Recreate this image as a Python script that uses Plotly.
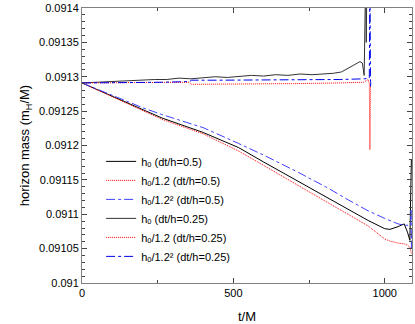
import plotly.graph_objects as go

# upper group (dt/h=0.25)
t_up_black = [0, 40, 80, 120, 160, 200, 240, 280, 320, 360, 400, 440, 480, 520, 560, 600,
              640, 680, 720, 760, 800, 830, 857, 880, 898, 910, 918, 926, 932, 937, 939, 941]
m_up_black = [0.091291, 0.091292, 0.091292, 0.091294, 0.091294, 0.091295, 0.091296, 0.091296,
              0.091298, 0.091297, 0.091299, 0.091300, 0.091299, 0.091301, 0.091302, 0.091301,
              0.091303, 0.091302, 0.091304, 0.091303, 0.091304, 0.091305, 0.091307, 0.091312,
              0.091317, 0.091320, 0.091322, 0.091320, 0.091302, 0.09145, 0.09135, 0.09145]

t_up_red = [0, 100, 200, 264, 355, 362, 450, 549, 700, 850, 930, 945, 949, 951, 953]
m_up_red = [0.091291, 0.091291, 0.091291, 0.091291, 0.091292, 0.091289, 0.091289, 0.091289,
            0.091290, 0.091291, 0.091292, 0.091296, 0.091290, 0.091194, 0.091288]

t_up_blue = [0, 100, 200, 264, 355, 362, 450, 549, 700, 850, 934, 949, 951, 952, 953, 954]
m_up_blue = [0.091291, 0.091291, 0.091292, 0.091292, 0.091293, 0.091295, 0.091295, 0.091295,
             0.091296, 0.091296, 0.091297, 0.091298, 0.09145, 0.09145, 0.091286, 0.091292]

# lower group (dt/h=0.5)
t_lo = [0, 100, 200, 264, 400, 517, 600, 714, 813, 879, 945, 1000, 1017, 1044, 1064, 1075, 1083, 1088]
m_lo_black = [0.091291, 0.091272, 0.091252, 0.091240, 0.091219, 0.091197, 0.091176, 0.091148,
              0.091123, 0.091107, 0.091091, 0.091079, 0.091078, 0.091082, 0.091086, 0.091074,
              0.091062, 0.091180]
m_lo_red = [0.091291, 0.091271, 0.091251, 0.091238, 0.091217, 0.091192, 0.091171, 0.091142,
            0.091117, 0.091101, 0.091083, 0.091064, 0.091061, 0.091058, 0.091057, 0.091055,
            0.091052, 0.091043]

t_lo_blue = [0, 100, 200, 264, 400, 517, 600, 714, 813, 879, 945, 1000, 1017, 1044, 1064, 1083,
             1086, 1087, 1088, 1089]
m_lo_blue = [0.091291, 0.091273, 0.091255, 0.091245, 0.091226, 0.091203, 0.091186, 0.091161,
             0.091138, 0.091121, 0.091105, 0.091094, 0.091091, 0.091086, 0.091084, 0.091084,
             0.091084, 0.091108, 0.091050, 0.091075]

names = ["h\u2092 (dt/h=0.5)", "h\u2092/1.2 (dt/h=0.5)",
         "h\u2092/1.2\u00b2 (dt/h=0.5)", "h\u2092 (dt/h=0.25)",
         "h\u2092/1.2 (dt/h=0.25)", "h\u2092/1.2\u00b2 (dt/h=0.25)"]

y_ticks = [0.091, 0.09105, 0.0911, 0.09115, 0.0912, 0.09125, 0.0913, 0.09135, 0.0914]
y_labels = ["0.091", "0.09105", "0.0911", "0.09115", "0.0912", "0.09125", "0.0913", "0.09135", "0.0914"]
x_ticks = [0, 500, 1000]

font = "Liberation Sans, Arial, DejaVu Sans, sans-serif"
dotted = "1px,1px"

fig = go.Figure()
fig.add_trace(go.Scatter(x=t_lo, y=m_lo_black, mode="lines", name=names[0],
                         line=dict(color="black", width=1)))
fig.add_trace(go.Scatter(x=t_lo, y=m_lo_red, mode="lines", name=names[1],
                         line=dict(color="red", width=1, dash=dotted)))
fig.add_trace(go.Scatter(x=t_lo_blue, y=m_lo_blue, mode="lines", name=names[2],
                         line=dict(color="#4040ff", width=1, dash="dashdot")))
fig.add_trace(go.Scatter(x=t_up_black, y=m_up_black, mode="lines", name=names[3],
                         line=dict(color="#333333", width=1)))
fig.add_trace(go.Scatter(x=t_up_red, y=m_up_red, mode="lines", name=names[4],
                         line=dict(color="red", width=1, dash=dotted)))
fig.add_trace(go.Scatter(x=t_up_blue, y=m_up_blue, mode="lines", name=names[5],
                         line=dict(color="#0000ee", width=1, dash="dashdot")))

fig.update_layout(
    width=415, height=324,
    margin=dict(l=82, r=2, t=7, b=39),
    paper_bgcolor="white", plot_bgcolor="white",
    font=dict(family=font, size=11, color="black"),
    showlegend=True,
    legend=dict(x=0.058, y=0.495, xanchor="left", yanchor="top",
                bgcolor="rgba(0,0,0,0)", font=dict(size=11),
                itemwidth=30, tracegroupgap=0),
)
fig.update_xaxes(
    range=[0, 1090], tickvals=x_ticks, ticks="inside", ticklen=5,
    showline=True, linecolor="#808080", linewidth=1, mirror="allticks",
    showgrid=False, zeroline=False,
    minor=dict(dtick=250, ticks="inside", ticklen=3, showgrid=False),
    title=dict(text="t/M", standoff=14),
)
fig.update_yaxes(
    range=[0.091, 0.0914], tickvals=y_ticks, ticktext=y_labels, ticks="inside", ticklen=5,
    showline=True, linecolor="#808080", linewidth=1, mirror="allticks",
    showgrid=False, zeroline=False,
    minor=dict(dtick=0.00001, ticks="inside", ticklen=3, showgrid=False),
    title=dict(text="horizon mass (m<sub>H</sub>/M)", standoff=6),
)

fig.write_html("out.html", config={"displayModeBar": False},
               post_script="document.body.style.margin='0';")
